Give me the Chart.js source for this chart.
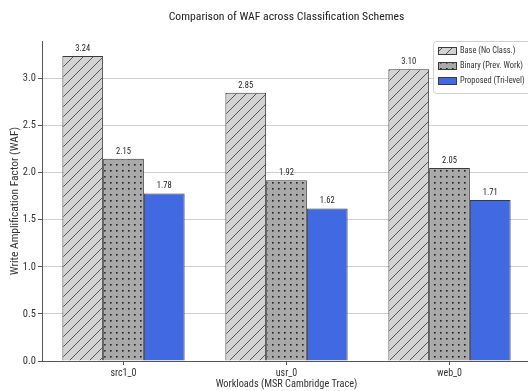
<!DOCTYPE html>
<html>
<head>
<meta charset="utf-8">
<script src="https://cdn.jsdelivr.net/npm/chart.js@4/dist/chart.umd.min.js"></script>
<style>
	html, body { margin: 0; padding: 0; background: #fff; overflow: hidden; }
	#wrap { width: 528px; height: 391px; overflow: hidden; }
</style>
</head>
<body>
<div id="wrap"><canvas id="waf-chart" width="531" height="391"></canvas></div>
<script>
const categories = ['src1_0', 'usr_0', 'web_0'];
const seriesNames = ['Base (No Class.)', 'Binary (Prev. Work)', 'Proposed (Tri-level)'];
const baseValues = [3.24, 2.85, 3.10];
const binaryValues = [2.15, 1.92, 2.05];
const proposedValues = [1.78, 1.62, 1.71];
const yTicks = [0, 0.5, 1.0, 1.5, 2.0, 2.5, 3.0];

const fontFamily = '"Liberation Sans Narrow", "Roboto Condensed", Roboto, sans-serif';
const edgeColor = '#3a3a3a';

function hatchPattern() {
	const c = document.createElement('canvas');
	c.width = 10;
	c.height = 10;
	const g = c.getContext('2d');
	g.fillStyle = '#d3d3d3';
	g.fillRect(0, 0, 10, 10);
	g.strokeStyle = '#555';
	g.lineWidth = 1;
	g.beginPath();
	g.moveTo(0, 10);
	g.lineTo(10, 0);
	g.moveTo(-5, 5);
	g.lineTo(5, -5);
	g.moveTo(5, 15);
	g.lineTo(15, 5);
	g.stroke();
	return g.createPattern(c, 'repeat');
}

function dotPattern() {
	const c = document.createElement('canvas');
	c.width = 6;
	c.height = 6;
	const g = c.getContext('2d');
	g.fillStyle = '#a9a9a9';
	g.fillRect(0, 0, 6, 6);
	g.fillStyle = '#1e1e1e';
	g.fillRect(2, 2, 1.6, 1.6);
	return g.createPattern(c, 'repeat');
}

const fills = [hatchPattern(), dotPattern(), '#4169e1'];

const valueLabels = {
	id: 'valueLabels',
	afterDatasetsDraw(chart) {
		const ctx = chart.ctx;
		ctx.save();
		ctx.font = '8.5px ' + fontFamily;
		ctx.fillStyle = '#222';
		ctx.textAlign = 'center';
		ctx.textBaseline = 'bottom';
		chart.data.datasets.forEach((ds, i) => {
			chart.getDatasetMeta(i).data.forEach((bar, j) => {
				ctx.fillText(ds.data[j].toFixed(2), bar.x, bar.y - 3);
			});
		});
		ctx.restore();
	},
};

const boxLegend = {
	id: 'boxLegend',
	afterDraw(chart) {
		const ctx = chart.ctx;
		const x = 433;
		const y = 41;
		ctx.save();
		ctx.fillStyle = 'rgba(255,255,255,0.85)';
		ctx.strokeStyle = '#d0d0d0';
		ctx.lineWidth = 1;
		ctx.beginPath();
		ctx.roundRect(x + 0.5, y + 0.5, 110, 52, 3);
		ctx.fill();
		ctx.stroke();
		ctx.font = '8.4px ' + fontFamily;
		ctx.textBaseline = 'middle';
		chart.data.datasets.forEach((ds, i) => {
			const cy = y + 10 + i * 15;
			ctx.fillStyle = ds.backgroundColor;
			ctx.fillRect(x + 5, cy - 4, 19, 8);
			ctx.strokeStyle = edgeColor;
			ctx.strokeRect(x + 5.5, cy - 3.5, 18, 7);
			ctx.fillStyle = '#333';
			ctx.fillText(ds.label, x + 27, cy);
		});
		ctx.restore();
	},
};

const tickFont = { family: fontFamily, size: 10.5 };
const xTickFont = { family: fontFamily, size: 10 };
const titleFont = { family: fontFamily, size: 10.3 };

new Chart(document.getElementById('waf-chart'), {
	type: 'bar',
	data: {
		labels: categories,
		datasets: [baseValues, binaryValues, proposedValues].map((values, i) => ({
			label: seriesNames[i],
			data: values,
			backgroundColor: fills[i],
			borderColor: edgeColor,
			borderWidth: 1,
			barPercentage: 1,
			categoryPercentage: 0.75,
		})),
	},
	options: {
		responsive: false,
		animation: false,
		layout: {
			padding: 0,
		},
		plugins: {
			legend: {
				display: false,
			},
			tooltip: {
				enabled: false,
			},
			title: {
				display: true,
				text: 'Comparison of WAF across Classification Schemes',
				fullSize: false,
				color: '#222',
				font: { family: fontFamily, size: 11.7, weight: 'normal' },
				padding: { top: 10, bottom: 17 },
			},
		},
		scales: {
			x: {
				grid: {
					offset: false,
					drawOnChartArea: false,
					tickLength: 4,
					tickColor: '#555',
				},
				border: {
					color: '#555',
				},
				ticks: {
					color: '#333',
					font: xTickFont,
					padding: 2,
				},
				title: {
					display: true,
					text: 'Workloads (MSR Cambridge Trace)',
					color: '#333',
					font: titleFont,
					padding: 0,
				},
				afterFit(scale) {
					scale.height = 30;
				},
			},
			y: {
				min: 0,
				max: 3.4,
				grid: {
					color: '#cfcfcf',
					borderDash: [2, 2],
					tickLength: 4,
					tickColor: '#555',
					tickBorderDash: [],
				},
				border: {
					color: '#555',
					dash: [],
				},
				ticks: {
					color: '#333',
					font: tickFont,
					padding: 2,
					callback: (v) => Number(v).toFixed(1),
				},
				afterBuildTicks(scale) {
					scale.ticks = yTicks.map((v) => ({ value: v }));
				},
				title: {
					display: true,
					text: 'Write Amplification Factor (WAF)',
					color: '#333',
					font: { family: fontFamily, size: 11.5 },
					padding: { top: 8, bottom: 2 },
				},
				afterFit(scale) {
					scale.width = 42;
				},
			},
		},
	},
	plugins: [valueLabels, boxLegend],
});
</script>
</body>
</html>
